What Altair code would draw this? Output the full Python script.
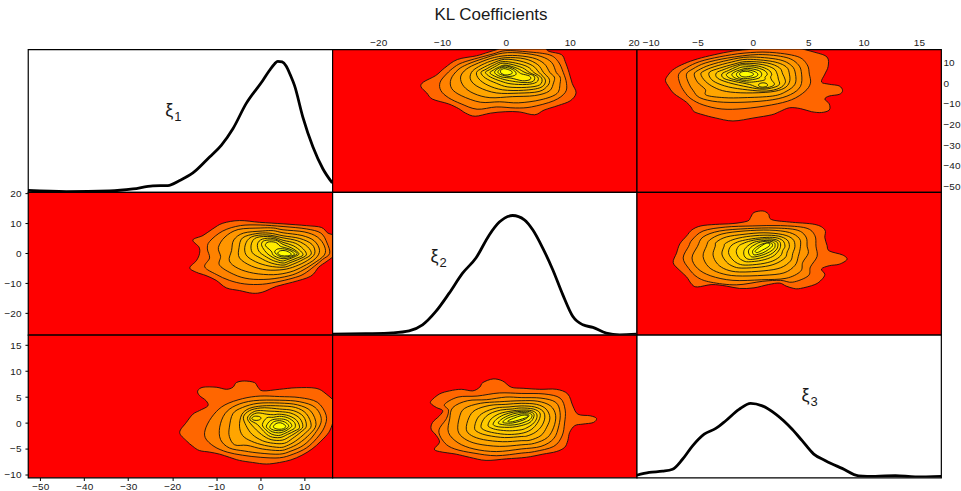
import altair as alt
import pandas as pd

FONT = "Liberation Sans"

# ---------------- axis ranges ----------------
XI1_DOMAIN = [-52.8, 16.4]
XI2_DOMAIN = [-27.2, 20.5]
XI3_DOMAIN = [-10.5, 17.0]
DENS_DOMAIN = [0, 0.05]

XI1_TICKS = [-50, -40, -30, -20, -10, 0, 10]
XI2_TICKS = [-20, -10, 0, 10, 20]
XI3_TICKS = [-10, -5, 0, 5, 10, 15]

# ---------------- marginal densities (diagonal) ----------------
xi1_grid = [-52.8, -44.1, -34.2, -28.9, -24.4, -21.0, -18.3, -15.3, -11.5, -8.85, -6.2, -3.2,
            0.6, 2.1, 3.3, 4.0, 5.0, 5.9, 6.9, 7.8, 9.7, 12.0, 14.25, 16.4]
xi1_density = [0.0006, 0.0002, 0.0004, 0.0011, 0.0022, 0.0023, 0.0041, 0.0067, 0.0123, 0.0164, 0.0222, 0.0310,
               0.0391, 0.0426, 0.0450, 0.0458, 0.0456, 0.0442, 0.0409, 0.0374, 0.0263, 0.0158, 0.0082, 0.0032]

xi2_grid = [-27.2, -21.96, -17.78, -15.16, -13.06, -10.97, -8.88, -6.78, -4.69, -2.6, -1.02, 1.07,
            2.9, 4.21, 5.78, 7.35, 8.93, 10.5, 12.07, 13.64, 15.73, 17.83, 20.5]
xi2_density = [0.0002, 0.0004, 0.0007, 0.0014, 0.0035, 0.0082, 0.0146, 0.0216, 0.0269, 0.0350, 0.0395, 0.0418,
               0.0403, 0.0368, 0.0304, 0.0228, 0.0140, 0.0064, 0.0035, 0.0026, 0.0006, 0.0000, 0.0002]

xi3_grid = [-10.5, -9.36, -8.16, -7.26, -6.36, -5.45, -4.4, -3.35, -2.45, -1.25, -0.2, 0.85,
            2.06, 3.55, 4.45, 5.5, 6.56, 8.06, 9.56, 11.07, 12.87, 14.67, 17.0]
xi3_density = [0.0008, 0.0018, 0.0022, 0.0029, 0.0064, 0.0111, 0.0152, 0.0172, 0.0199, 0.0239, 0.0260, 0.0251,
               0.0222, 0.0169, 0.0129, 0.0082, 0.0059, 0.0032, 0.0006, 0.0004, 0.0007, 0.0002, 0.0004]

# diagonal labels (data coordinates of each panel)
label_sub = ["1", "2", "3"]
label_x = [-21.6, -11.8, 4.4]
label_y = [0.0265, 0.0256, 0.0269]

# ---------------- contour levels (filled) ----------------
level_colors = ["#FF6600", "#FF8200", "#FF9600", "#FFA500", "#FFB400", "#FFC000",
                "#FFCC00", "#FFD700", "#FFE200", "#FFEC00", "#FFF600", "#FFFF00"]

# pair (xi1, xi2): points are (xi1, xi2)
contours_12 = [
    [(-16.0, -4.8), (-14.5, -2.4), (-13.8, -0.1), (-13.9, 2.1), (-15.3, 4.5), (-13.0, 6.0), (-10.8, 8.2),
     (-8.5, 10.1), (-4.7, 11.0), (-0.1, 10.4), (5.2, 9.9), (10.5, 9.3), (13.9, 8.7), (15.4, 6.8), (17.3, 5.5),
     (17.3, 0.8), (16.6, -1.0), (15.0, -2.8), (13.3, -4.6), (11.5, -7.6), (7.4, -9.6), (3.7, -11.0),
     (0.6, -12.9), (-1.7, -13.3), (-4.7, -12.4), (-7.7, -11.5), (-10.0, -9.0), (-12.3, -7.4), (-14.5, -6.3)],
    [(-12.6, -4.5), (-11.5, -1.5), (-12.0, 1.5), (-11.5, 4.0), (-8.5, 7.5), (-4.5, 9.3), (0.0, 9.5), (5.2, 9.0),
     (10.5, 8.2), (13.8, 6.8), (15.2, 3.5), (15.8, 0.0), (14.2, -2.0), (12.3, -4.3), (10.0, -6.8), (8.0, -8.0),
     (4.5, -9.3), (0.5, -10.3), (-3.5, -10.2), (-7.0, -9.0), (-10.0, -7.0)],
    [(-9.2, -4.0), (-9.0, -1.0), (-9.5, 2.0), (-8.0, 5.5), (-5.0, 8.0), (0.0, 8.5), (3.0, 8.5), (5.2, 7.9),
     (10.0, 7.2), (13.0, 5.5), (14.6, 2.5), (14.6, -0.5), (12.0, -3.5), (9.2, -6.0), (6.5, -7.5), (2.0, -8.6),
     (-2.5, -8.5), (-6.0, -7.0)],
    [(-7.0, -2.5), (-6.5, 1.0), (-6.0, 4.5), (-3.8, 6.8), (0.5, 7.5), (3.0, 7.6), (5.2, 6.9), (9.5, 6.0),
     (12.3, 4.2), (13.5, 1.0), (12.5, -1.8), (9.8, -4.3), (6.8, -6.2), (3.0, -7.1), (-1.5, -6.6), (-5.0, -5.0)],
    [(-4.7, -1.5), (-4.8, 2.0), (-4.0, 5.2), (-1.0, 6.6), (2.0, 6.8), (5.2, 5.9), (9.0, 5.0), (11.8, 3.0),
     (12.4, 0.0), (10.8, -2.3), (8.0, -4.3), (5.2, -5.4), (1.5, -5.5), (-2.0, -4.2)],
    [(-3.2, -0.5), (-3.4, 2.8), (-2.0, 5.5), (1.5, 6.2), (5.2, 5.2), (8.5, 4.2), (10.8, 2.2), (11.6, -0.2),
     (9.8, -2.0), (7.3, -3.7), (5.2, -4.6), (2.0, -4.2), (-1.0, -2.8)],
    [(-1.8, 0.3), (-2.0, 3.2), (-0.8, 5.3), (2.5, 5.6), (5.2, 4.4), (8.0, 3.4), (9.8, 1.5), (10.5, -0.5),
     (9.0, -1.8), (6.8, -3.1), (5.2, -3.9), (2.5, -3.2), (0.0, -1.5)],
    [(-0.3, 0.8), (-0.6, 3.2), (0.5, 4.8), (3.0, 5.0), (5.2, 3.7), (7.5, 2.6), (9.2, 0.8), (9.7, -0.6),
     (8.4, -1.5), (6.5, -2.6), (5.2, -3.2), (3.0, -2.4), (1.0, -0.8)],
    [(1.0, 1.0), (0.3, 3.0), (1.0, 4.3), (3.5, 4.4), (5.2, 3.0), (7.2, 1.8), (8.8, 0.0), (8.0, -1.0),
     (6.3, -2.0), (5.0, -2.5), (3.5, -1.8), (2.0, -0.5)],
    [(2.5, 0.8), (1.2, 2.6), (1.8, 3.8), (3.5, 3.7), (4.5, 2.5), (5.2, 2.1), (7.0, 1.3), (8.4, 0.0),
     (7.4, -1.0), (5.9, -1.7), (4.5, -1.6), (3.0, -0.6)],
    [(3.3, 0.5), (4.0, 1.5), (5.5, 1.5), (7.0, 0.8), (7.8, -0.3), (6.8, -0.9), (5.4, -1.25), (4.2, -0.8)],
    [(4.0, 0.0), (4.6, 0.9), (5.8, 0.9), (6.8, 0.2), (7.05, -0.4), (6.2, -0.8), (4.9, -0.75)],
]
islands_12 = []

# pair (xi1, xi3): points are (xi1, xi3)
contours_13 = [
    [(-18.3, -1.8), (-16.8, 0.1), (-15.3, 1.7), (-13.8, 2.4), (-11.9, 3.3), (-12.3, 4.3), (-13.8, 5.3),
     (-14.2, 6.2), (-13.0, 6.9), (-10.0, 6.9), (-7.7, 6.5), (-6.2, 6.9), (-5.4, 7.8), (-3.6, 8.1), (-1.3, 7.8),
     (-0.5, 6.9), (0.6, 6.2), (4.4, 6.5), (8.2, 6.8), (12.7, 6.7), (15.0, 5.6), (17.3, 3.7), (17.3, 2.0),
     (16.5, 0.0), (15.6, -1.8), (13.8, -3.5), (11.8, -5.0), (9.5, -6.2), (7.0, -7.1), (4.4, -7.6), (1.4, -7.9),
     (-1.7, -7.6), (-4.7, -7.2), (-7.0, -6.6), (-9.2, -6.0), (-11.5, -5.6), (-13.8, -5.3), (-15.3, -4.5),
     (-16.8, -3.4)],
    [(-12.3, -0.8), (-10.5, 1.7), (-8.0, 3.5), (-4.0, 4.7), (0.0, 5.2), (4.4, 5.1), (9.0, 4.9), (13.0, 4.0),
     (15.0, 1.5), (14.6, -0.8), (12.8, -3.0), (10.5, -4.8), (7.5, -6.0), (4.4, -6.7), (0.0, -6.6), (-4.0, -6.2),
     (-7.5, -5.6), (-10.5, -4.5), (-12.5, -2.8)],
    [(-9.2, -0.8), (-8.0, 1.8), (-5.5, 3.4), (-1.5, 4.3), (4.4, 4.4), (9.0, 4.1), (12.5, 3.0), (13.9, 0.5),
     (12.2, -2.3), (9.8, -4.3), (7.0, -5.4), (4.4, -6.0), (0.0, -5.8), (-3.5, -5.4), (-7.0, -4.8), (-9.0, -3.2)],
    [(-7.0, -0.8), (-6.2, 1.8), (-4.0, 3.0), (-0.5, 3.8), (4.4, 3.85), (8.5, 3.5), (11.5, 2.3), (12.7, -0.3),
     (11.2, -2.2), (8.8, -3.9), (6.4, -4.9), (4.4, -5.3), (0.5, -5.0), (-3.0, -4.3), (-5.8, -4.2), (-7.0, -2.6)],
    [(-4.7, -0.6), (-4.2, 1.6), (-2.5, 2.8), (0.5, 3.3), (4.4, 3.3), (8.0, 3.0), (10.5, 1.8), (11.6, -0.5),
     (10.3, -1.9), (8.0, -3.5), (6.0, -4.4), (4.4, -4.7), (1.0, -4.3), (-2.0, -3.5), (-4.0, -2.4)],
    [(-3.2, -0.5), (-3.8, 1.2), (-2.4, 2.4), (0.0, 2.9), (2.0, 2.9), (4.4, 2.7), (7.5, 2.4), (9.8, 1.3),
     (10.5, -0.6), (9.3, -1.7), (7.3, -3.0), (5.5, -3.9), (3.0, -3.9), (0.5, -3.4), (-1.8, -2.2)],
    [(-1.9, -0.4), (-2.9, 0.9), (-2.0, 1.9), (-0.5, 2.4), (2.0, 2.3), (4.4, 2.2), (7.0, 1.9), (9.0, 0.9),
     (9.7, -0.7), (8.6, -1.6), (6.7, -2.6), (5.0, -3.3), (2.5, -3.2), (0.3, -2.2)],
    [(-0.6, -0.3), (-2.3, 0.6), (-1.9, 1.5), (-0.5, 1.95), (1.5, 1.7), (3.0, 1.6), (4.4, 1.7), (6.5, 1.4),
     (8.3, 0.5), (8.95, -0.9), (7.9, -1.5), (6.2, -2.2), (4.5, -2.8), (2.3, -2.6), (0.8, -1.6)],
    [(0.5, -0.3), (1.5, 1.0), (3.0, 1.1), (4.4, 1.3), (6.3, 1.0), (7.8, 0.1), (7.9, -0.9), (6.8, -1.5),
     (5.6, -2.0), (4.2, -2.4), (2.5, -2.1), (1.3, -1.3)],
    [(1.4, -0.6), (2.4, 0.5), (4.4, 0.8), (6.2, 0.5), (7.2, -0.5), (6.4, -1.2), (5.3, -1.7), (4.2, -1.9),
     (2.8, -1.7), (1.9, -1.2)],
    [(2.2, -0.7), (3.0, 0.2), (4.4, 0.45), (5.8, 0.1), (6.5, -0.6), (5.9, -1.1), (4.9, -1.45), (3.6, -1.45),
     (2.6, -1.2)],
    [(3.0, -0.7), (3.6, -0.1), (4.6, 0.05), (5.5, -0.3), (5.8, -0.7), (5.3, -1.1), (4.3, -1.2), (3.4, -1.05)],
]
islands_13 = [
    (9, [(-1.9, 0.9), (-1.3, 1.3), (-0.2, 1.25), (0.2, 0.9), (-0.4, 0.55), (-1.4, 0.55)]),
]

# pair (xi2, xi3): points are (xi2, xi3)
contours_23 = [
    [(-11.7, 4.3), (-10.4, 5.6), (-8.8, 6.2), (-7.0, 6.5), (-5.2, 6.2), (-4.1, 6.9), (-3.6, 7.8), (-2.0, 8.5),
     (-0.5, 8.1), (0.85, 6.9), (2.7, 6.7), (5.3, 6.5), (7.9, 6.5), (9.7, 5.6), (10.5, 3.3), (11.3, 1.7),
     (13.2, 1.4), (14.2, 0.9), (13.7, 0.1), (12.1, -0.2), (10.8, -0.5), (10.0, -1.8), (9.7, -3.4), (9.2, -4.7),
     (7.9, -5.5), (5.8, -6.0), (3.2, -6.6), (0.1, -6.9), (-3.1, -7.2), (-5.7, -6.6), (-7.8, -6.0), (-10.4, -5.5),
     (-11.2, -5.0), (-10.4, -3.7), (-10.9, -2.4), (-11.7, -1.2), (-11.5, 0.1), (-10.4, 1.4), (-9.9, 2.4),
     (-10.9, 3.0), (-11.7, 3.7)],
    [(-10.5, -1.5), (-9.3, 0.9), (-9.0, 2.5), (-9.6, 3.6), (-7.5, 5.0), (-4.5, 5.2), (-1.0, 5.8), (2.4, 5.7),
     (6.0, 5.6), (8.5, 4.8), (9.3, 2.5), (9.2, 0.0), (8.8, -2.5), (7.5, -4.5), (4.5, -5.5), (2.4, -5.8),
     (-1.5, -6.3), (-5.0, -5.8), (-8.0, -5.0), (-9.6, -3.8)],
    [(-9.0, -1.8), (-8.8, 0.8), (-8.3, 3.0), (-6.0, 4.3), (-3.0, 4.5), (0.0, 5.0), (2.4, 4.9), (5.5, 4.8),
     (7.8, 4.0), (8.5, 2.0), (8.3, -0.5), (7.5, -3.0), (5.5, -4.5), (2.4, -5.0), (-1.5, -5.5), (-5.0, -5.0),
     (-7.5, -3.8)],
    [(-7.5, -1.5), (-7.3, 1.0), (-6.5, 2.8), (-4.0, 3.8), (-1.0, 4.1), (2.4, 4.3), (5.0, 4.2), (7.0, 3.3),
     (7.8, 1.5), (7.5, -0.8), (6.5, -2.8), (4.5, -3.9), (2.4, -4.2), (-1.0, -4.5), (-4.5, -4.0), (-6.5, -3.0)],
    [(-6.2, -1.2), (-5.8, 1.0), (-4.8, 2.5), (-2.5, 3.4), (0.0, 3.6), (2.4, 3.8), (4.8, 3.6), (6.3, 2.7),
     (6.9, 1.0), (6.4, -0.8), (5.5, -2.4), (3.8, -3.3), (2.4, -3.4), (-0.5, -3.6), (-3.5, -3.2), (-5.4, -2.4)],
    [(-4.9, -1.0), (-4.5, 0.8), (-3.5, 2.0), (-1.5, 2.9), (0.5, 3.1), (2.4, 3.3), (4.5, 3.1), (5.8, 2.3),
     (6.1, 1.0), (5.6, -0.6), (4.6, -1.8), (3.3, -2.5), (2.4, -2.6), (-0.2, -2.8), (-2.8, -2.4), (-4.3, -1.8)],
    [(-3.9, -0.7), (-3.5, 0.7), (-2.5, 1.8), (-0.8, 2.5), (1.0, 2.7), (2.4, 2.9), (4.3, 2.7), (5.3, 2.0),
     (5.3, 0.9), (4.7, -0.4), (3.8, -1.4), (2.4, -2.0), (0.3, -2.2), (-1.8, -1.9), (-3.3, -1.4)],
    [(-2.8, -0.4), (-2.3, 0.8), (-1.0, 1.8), (0.8, 2.3), (2.4, 2.5), (4.0, 2.4), (4.8, 1.8), (4.8, 0.8),
     (4.2, -0.2), (3.3, -0.9), (2.4, -1.3), (0.6, -1.5), (-1.3, -1.3), (-2.4, -0.9)],
    [(-2.0, -0.2), (-1.5, 0.7), (-0.3, 1.6), (1.2, 2.1), (2.4, 2.25), (3.7, 2.2), (4.4, 1.7), (4.2, 0.7),
     (3.6, 0.0), (2.4, -0.5), (1.0, -0.8), (-0.6, -0.8), (-1.6, -0.6)],
    [(-1.2, 0.0), (-0.6, 0.8), (0.5, 1.5), (1.6, 1.9), (2.4, 2.0), (3.5, 1.95), (4.1, 1.5), (3.8, 0.7),
     (3.0, 0.2), (2.0, -0.2), (0.8, -0.4), (-0.5, -0.3)],
    [(-0.5, 0.2), (0.2, 0.9), (1.3, 1.4), (2.4, 1.75), (3.4, 1.7), (3.6, 1.35), (3.1, 0.8), (2.2, 0.35),
     (1.0, 0.0), (0.0, 0.0)],
    [(0.3, 0.4), (1.2, 0.9), (2.4, 1.45), (3.3, 1.5), (3.4, 1.2), (2.6, 0.8), (1.5, 0.4), (0.7, 0.2)],
]
islands_23 = []

# ---------------- build tables ----------------
def contour_table(levels, islands):
    polys = [(k + 1, pts) for k, pts in enumerate(levels)] + list(islands)
    polys.sort(key=lambda p: p[0])
    rows = []
    for pid, (lev, pts) in enumerate(polys):
        for o, (a, b) in enumerate(pts):
            rows.append({"level": lev, "poly": f"{lev:02d}_{pid:02d}", "ord": o, "a": a, "b": b})
    return pd.DataFrame(rows)

tab12 = contour_table(contours_12, islands_12)
tab13 = contour_table(contours_13, islands_13)
tab23 = contour_table(contours_23, islands_23)

W, H = 305, 143
BORDER = dict(stroke="black", strokeWidth=1.2)


def ax(orient, values, ticks, flush=False):
    kw = dict(orient=orient, values=values, grid=False, domain=False, title=None,
              labelFontSize=10, labelFont=FONT, labelColor="#1a1a1a",
              labelFlush=8 if flush else False, labelOverlap=False, ticks=ticks)
    if ticks:
        kw.update(tickSize=3, tickColor="black", labelPadding=1 if orient == "bottom" else 4)
    else:
        kw.update(labelPadding=2)
    return alt.Axis(**kw)


def contour_panel(tab, xfield, yfield, xdom, ydom, xaxis=None, yaxis=None):
    return alt.Chart(tab).mark_line(
        interpolate="cardinal-closed", stroke="#111111", strokeWidth=0.9, clip=True
    ).encode(
        x=alt.X(f"{xfield}:Q", scale=alt.Scale(domain=xdom, nice=False, zero=False), axis=xaxis),
        y=alt.Y(f"{yfield}:Q", scale=alt.Scale(domain=ydom, nice=False, zero=False), axis=yaxis),
        detail="poly:N",
        order="ord:Q",
        fill=alt.Fill("level:O", scale=alt.Scale(domain=list(range(1, 13)), range=level_colors), legend=None),
    ).properties(width=W, height=H, view=alt.ViewBackground(fill="#FF0000", **BORDER))


def diag_panel(grid, dens, xdom, idx):
    df = pd.DataFrame({"x": grid, "d": dens})
    xs = alt.X("x:Q", scale=alt.Scale(domain=xdom, nice=False, zero=False), axis=None)
    ys = alt.Y("d:Q", scale=alt.Scale(domain=DENS_DOMAIN, nice=False, zero=False), axis=None)
    line = alt.Chart(df).mark_line(color="black", strokeWidth=2.8, interpolate="monotone", clip=True).encode(
        x=xs, y=ys)
    lab = pd.DataFrame({"x": [label_x[idx]], "d": [label_y[idx]], "t": ["ξ"], "s": [label_sub[idx]]})
    t1 = alt.Chart(lab).mark_text(align="left", baseline="alphabetic", fontSize=18, font=FONT,
                                  color="#1a1a1a").encode(x=xs, y=ys, text="t:N")
    t2 = alt.Chart(lab).mark_text(align="left", baseline="alphabetic", fontSize=13, font=FONT,
                                  color="#1a1a1a", dx=9, dy=5).encode(x=xs, y=ys, text="s:N")
    return alt.layer(line, t1, t2).properties(
        width=W, height=H, view=alt.ViewBackground(fill="white", **BORDER))


panels = [
    # row 1
    diag_panel(xi1_grid, xi1_density, XI1_DOMAIN, 0),
    contour_panel(tab12, "b", "a", XI2_DOMAIN, XI1_DOMAIN, xaxis=ax("top", XI2_TICKS, False)),
    contour_panel(tab13, "b", "a", XI3_DOMAIN, XI1_DOMAIN, xaxis=ax("top", XI3_TICKS, False, flush=True),
                  yaxis=ax("right", XI1_TICKS, False)),
    # row 2
    contour_panel(tab12, "a", "b", XI1_DOMAIN, XI2_DOMAIN, yaxis=ax("left", XI2_TICKS, True)),
    diag_panel(xi2_grid, xi2_density, XI2_DOMAIN, 1),
    contour_panel(tab23, "b", "a", XI3_DOMAIN, XI2_DOMAIN),
    # row 3
    contour_panel(tab13, "a", "b", XI1_DOMAIN, XI3_DOMAIN, xaxis=ax("bottom", XI1_TICKS, True),
                  yaxis=ax("left", XI3_TICKS, True)),
    contour_panel(tab23, "a", "b", XI2_DOMAIN, XI3_DOMAIN),
    diag_panel(xi3_grid, xi3_density, XI3_DOMAIN, 2),
]

chart = alt.concat(*panels, columns=3, spacing=0, bounds="flush").properties(
    title=alt.TitleParams("KL Coefficients", fontSize=17, fontWeight="normal", font=FONT,
                          color="#1a1a1a", anchor="middle", offset=13, dx=9),
    padding={"left": 3, "top": 5, "right": 0, "bottom": 3},
).configure(background="white")

chart.save("out.html", embed_options={"renderer": "svg", "actions": False})
